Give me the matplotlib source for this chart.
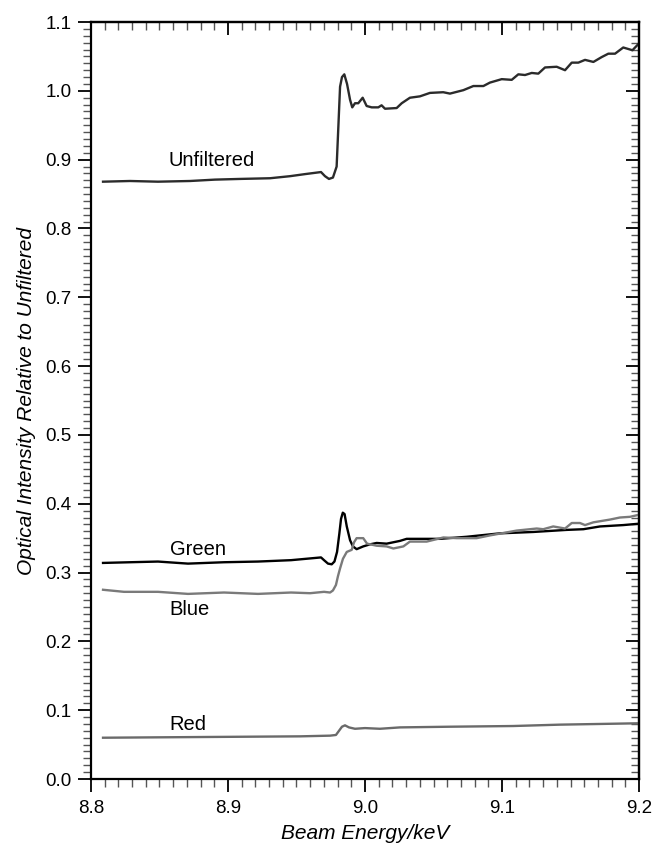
import matplotlib
matplotlib.use("Agg")
import matplotlib.pyplot as plt
import numpy as np
from matplotlib.ticker import MultipleLocator

plt.rcParams['font.family'] = ['Liberation Sans', 'DejaVu Sans']

# ---- data (energy in keV, intensity relative to unfiltered) ----
unf_x = [8.8088, 8.8285, 8.8489, 8.8723, 8.8905, 8.9088, 8.9307, 8.9453, 8.9562, 8.9679,
         8.9708, 8.9737, 8.9766, 8.9793, 8.9806, 8.9818, 8.9832, 8.9849, 8.9869, 8.9891,
         8.9907, 8.9927, 8.9951, 8.9983, 9.0012, 9.0049, 9.0097, 9.0121, 9.0146, 9.0231,
         9.0268, 9.0328, 9.0401, 9.0474, 9.0571, 9.0620, 9.0718, 9.0791, 9.0864, 9.0912,
         9.0998, 9.1071, 9.1119, 9.1168, 9.1217, 9.1265, 9.1314, 9.1399, 9.1460, 9.1509,
         9.1557, 9.1606, 9.1667, 9.1727, 9.1776, 9.1825, 9.1885, 9.1952, 9.2000]
unf_y = [0.868, 0.869, 0.868, 0.869, 0.871, 0.872, 0.873, 0.876, 0.879, 0.882,
         0.876, 0.872, 0.874, 0.890, 0.950, 1.006, 1.020, 1.024, 1.010, 0.987,
         0.976, 0.982, 0.982, 0.990, 0.978, 0.976, 0.976, 0.979, 0.974, 0.975,
         0.982, 0.990, 0.992, 0.997, 0.998, 0.996, 1.001, 1.007, 1.007, 1.012,
         1.017, 1.016, 1.024, 1.023, 1.026, 1.025, 1.034, 1.035, 1.030, 1.041,
         1.041, 1.045, 1.042, 1.049, 1.054, 1.054, 1.063, 1.059, 1.069]

grn_x = [8.8088, 8.8285, 8.8489, 8.8708, 8.8971, 8.9219, 8.9460, 8.9679, 8.9701, 8.9730,
         8.9757, 8.9777, 8.9796, 8.9813, 8.9825, 8.9838, 8.9851, 8.9867, 8.9891, 8.9912,
         8.9939, 8.9987, 9.0036, 9.0085, 9.0158, 9.0255, 9.0304, 9.0377, 9.0547, 9.0742,
         9.0888, 9.0985, 9.1229, 9.1472, 9.1594, 9.1715, 9.1885, 9.2000]
grn_y = [0.314, 0.315, 0.316, 0.313, 0.315, 0.316, 0.318, 0.322, 0.318, 0.313,
         0.312, 0.316, 0.330, 0.357, 0.378, 0.387, 0.385, 0.367, 0.347, 0.338,
         0.334, 0.338, 0.341, 0.343, 0.342, 0.346, 0.349, 0.349, 0.349, 0.352,
         0.355, 0.357, 0.359, 0.362, 0.363, 0.367, 0.369, 0.371]

blu_x = [8.8088, 8.8241, 8.8489, 8.8708, 8.8971, 8.9219, 8.9460, 8.9599, 8.9701, 8.9745,
         8.9766, 8.9788, 8.9803, 8.9818, 8.9839, 8.9867, 8.9903, 8.9920, 8.9939, 8.9987,
         9.0015, 9.0085, 9.0158, 9.0207, 9.0280, 9.0328, 9.0450, 9.0572, 9.0669, 9.0815,
         9.0912, 9.1107, 9.1253, 9.1301, 9.1374, 9.1460, 9.1509, 9.1569, 9.1606, 9.1667,
         9.1788, 9.1861, 9.1934, 9.2000]
blu_y = [0.275, 0.272, 0.272, 0.269, 0.271, 0.269, 0.271, 0.270, 0.272, 0.271,
         0.274, 0.282, 0.295, 0.306, 0.320, 0.330, 0.333, 0.344, 0.350, 0.350,
         0.342, 0.339, 0.338, 0.335, 0.338, 0.345, 0.345, 0.351, 0.350, 0.350,
         0.354, 0.361, 0.364, 0.363, 0.367, 0.364, 0.372, 0.372, 0.369, 0.373,
         0.377, 0.380, 0.381, 0.384]

red_x = [8.8088, 8.8796, 8.9526, 8.9745, 8.9788, 8.9810, 8.9832, 8.9854, 8.9883, 8.9927,
         9.0000, 9.0109, 9.0255, 9.0620, 9.1080, 9.1423, 9.1715, 9.2000]
red_y = [0.060, 0.061, 0.062, 0.063, 0.064, 0.070, 0.076, 0.078, 0.075, 0.073,
         0.074, 0.073, 0.075, 0.076, 0.077, 0.079, 0.080, 0.081]

series_labels = ["Unfiltered", "Green", "Blue", "Red"]
label_x = [8.888, 8.878, 8.872, 8.871]
label_y = [0.899, 0.334, 0.247, 0.0785]

x_ticks = [8.8, 8.9, 9.0, 9.1, 9.2]
y_ticks = [0.0, 0.1, 0.2, 0.3, 0.4, 0.5, 0.6, 0.7, 0.8, 0.9, 1.0, 1.1]

# ---- figure ----
fig = plt.figure(figsize=(6.55, 8.44), dpi=100)
ax = fig.add_axes([0.1389, 0.0770, 0.8367, 0.8969])

ax.plot(unf_x, unf_y, color='#2b2b2b', lw=1.7, solid_joinstyle='round')
ax.plot(grn_x, grn_y, color='#000000', lw=1.7, solid_joinstyle='round')
ax.plot(blu_x, blu_y, color='#7a7a7a', lw=1.7, solid_joinstyle='round')
ax.plot(red_x, red_y, color='#6a6a6a', lw=1.7, solid_joinstyle='round')

for lab, lx, ly in zip(series_labels, label_x, label_y):
    ax.text(lx, ly, lab, fontsize=14.5, ha='center', va='center', color='black')

ax.set_xlim(8.8, 9.2)
ax.set_ylim(0.0, 1.1)
ax.set_xticks(x_ticks)
ax.set_xticklabels([f"{v:.1f}" for v in x_ticks])
ax.set_yticks(y_ticks)
ax.set_yticklabels([f"{v:.1f}" for v in y_ticks])
ax.xaxis.set_minor_locator(MultipleLocator(0.01))
ax.yaxis.set_minor_locator(MultipleLocator(0.01))

ax.tick_params(which='major', direction='out', length=9.3, width=1.3, labelsize=13.5, pad=4.5)
ax.tick_params(which='minor', direction='out', length=5.8, width=1.0, color='#555555')
ax.tick_params(axis='x', which='major', pad=6)
ax.tick_params(top=False, right=False)

for s in ax.spines.values():
    s.set_linewidth(1.6)

secx = ax.secondary_xaxis('top')
secx.set_xticks(x_ticks)
secx.xaxis.set_minor_locator(MultipleLocator(0.01))
secx.tick_params(which='major', direction='in', length=9.3, width=1.3, labeltop=False)
secx.tick_params(which='minor', direction='in', length=5.8, width=1.0, color='#555555')
secx.spines['top'].set_linewidth(1.6)

secy = ax.secondary_yaxis('right')
secy.set_yticks(y_ticks)
secy.yaxis.set_minor_locator(MultipleLocator(0.01))
secy.tick_params(which='major', direction='in', length=9.3, width=1.3, labelright=False)
secy.tick_params(which='minor', direction='in', length=5.8, width=1.0, color='#555555')
secy.spines['right'].set_linewidth(1.6)

ax.set_xlabel("Beam Energy/keV", fontsize=15, style='italic', labelpad=5)
ax.set_ylabel("Optical Intensity Relative to Unfiltered", fontsize=15, style='italic', labelpad=7)

fig.savefig("out.png", dpi=100)
